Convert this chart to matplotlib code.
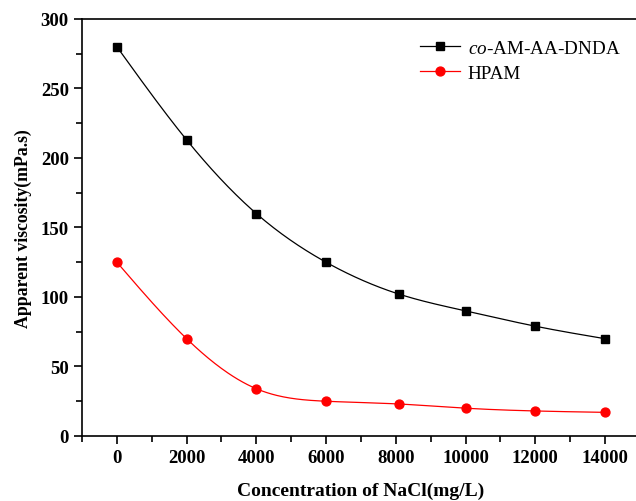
import numpy as np
import matplotlib
matplotlib.use('Agg')
import matplotlib.pyplot as plt
from matplotlib.ticker import MultipleLocator

# data
nacl = [0, 2000, 4000, 6000, 8100, 10000, 12000, 14000]
co_polymer = [280, 213, 160, 125, 102, 90, 79, 70]
hpam = [125, 70, 34, 25, 23, 20, 18, 17]

labels = ['$\\mathit{co}$-AM-AA-DNDA', 'HPAM']
colors = ['black', 'red']
markers = ['s', 'o']
msizes = [6.0, 6.4]


def natural_spline(x, y, n=300):
    """Natural cubic spline through the points (plain numpy)"""
    x = np.asarray(x, float)
    y = np.asarray(y, float)
    k = len(x)
    h = np.diff(x)
    A = np.zeros((k, k))
    b = np.zeros(k)
    A[0, 0] = 1
    A[-1, -1] = 1
    for i in range(1, k - 1):
        A[i, i - 1] = h[i - 1]
        A[i, i] = 2 * (h[i - 1] + h[i])
        A[i, i + 1] = h[i]
        b[i] = 6 * ((y[i + 1] - y[i]) / h[i] - (y[i] - y[i - 1]) / h[i - 1])
    m = np.linalg.solve(A, b)
    xs = np.linspace(x[0], x[-1], n)
    idx = np.clip(np.searchsorted(x, xs) - 1, 0, k - 2)
    x0, x1 = x[idx], x[idx + 1]
    hh = x1 - x0
    t0 = x1 - xs
    t1 = xs - x0
    ys = (m[idx] * t0 ** 3 / (6 * hh) + m[idx + 1] * t1 ** 3 / (6 * hh)
          + (y[idx] / hh - m[idx] * hh / 6) * t0
          + (y[idx + 1] / hh - m[idx + 1] * hh / 6) * t1)
    return xs, ys


plt.rcParams['font.family'] = ['Liberation Serif', 'DejaVu Serif']
plt.rcParams['mathtext.fontset'] = 'custom'
plt.rcParams['mathtext.it'] = 'Liberation Serif:italic'
plt.rcParams['mathtext.rm'] = 'Liberation Serif'

fig = plt.figure(figsize=(6.36, 5.02), dpi=100)
ax = fig.add_axes([0.129, 0.1295, 0.877, 0.8307])

for series, lab, col, mk, ms in zip([co_polymer, hpam], labels, colors, markers, msizes):
    xs, ys = natural_spline(nacl, series)
    ax.plot(xs, ys, color=col, linewidth=0.9)
    ax.plot(nacl, series, linestyle='none', marker=mk, color=col, markersize=ms)
    # legend proxy
    ax.plot([], [], color=col, linewidth=0.9, marker=mk, markersize=ms, label=lab)

ax.set_xlim(-1000, 15000)
ax.set_ylim(0, 300)
ax.xaxis.set_major_locator(MultipleLocator(2000))
ax.xaxis.set_minor_locator(MultipleLocator(1000))
ax.yaxis.set_major_locator(MultipleLocator(50))
ax.yaxis.set_minor_locator(MultipleLocator(25))
ax.tick_params(which='major', direction='out', length=6, width=1.2, labelsize=13.5)
ax.tick_params(which='minor', direction='out', length=4, width=1.2)
ax.tick_params(top=False, right=False, which='both')
for lbl in ax.get_xticklabels() + ax.get_yticklabels():
    lbl.set_fontweight('bold')
for sp in ax.spines.values():
    sp.set_linewidth(1.2)

ax.set_xlabel('Concentration of NaCl(mg/L)', fontsize=14, fontweight='bold', labelpad=11)
ax.set_ylabel('Apparent viscosity(mPa.s)', fontsize=12.8, fontweight='bold', labelpad=6)

ax.legend(loc='upper right', bbox_to_anchor=(0.996, 0.993), frameon=False, fontsize=13.8,
          handlelength=2.1, handletextpad=0.4, labelspacing=0.4)

plt.savefig('out.png', dpi=100)
plt.close()
